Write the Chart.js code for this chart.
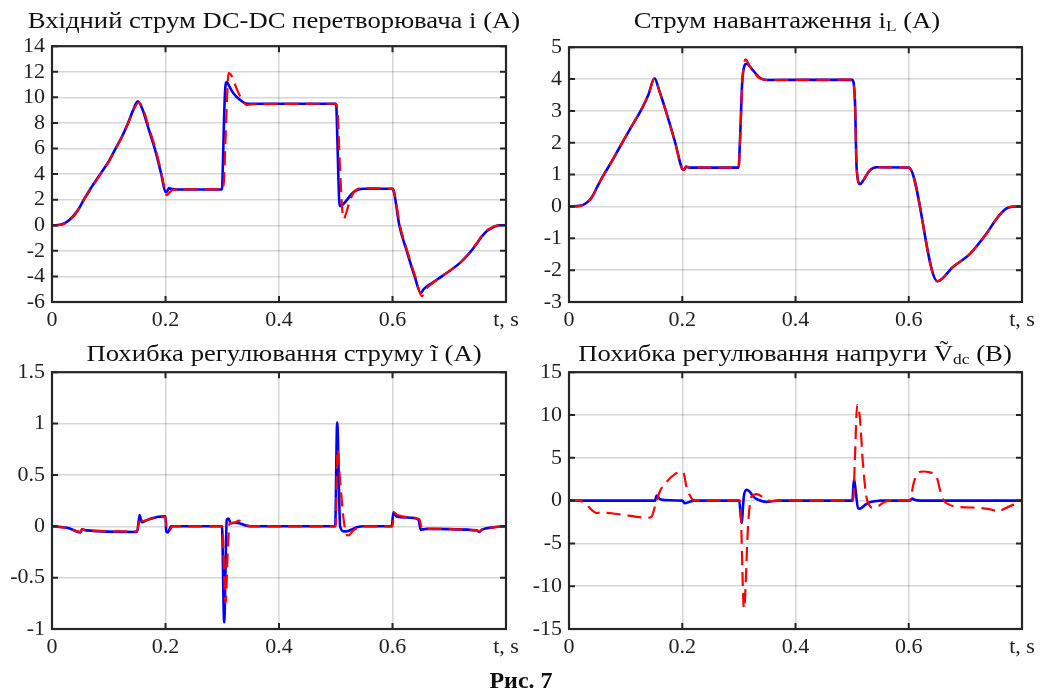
<!DOCTYPE html>
<html>
<head>
<meta charset="utf-8">
<script src="https://cdn.jsdelivr.net/npm/chart.js@4.4.1/dist/chart.umd.min.js"></script>
<style>
  html,body{margin:0;padding:0;background:#fff;}
  body{width:1041px;height:693px;position:relative;overflow:hidden;font-family:"Liberation Serif","Times New Roman",serif;}
  canvas{position:absolute;}
  .ttl{position:absolute;white-space:nowrap;font-size:23px;line-height:26px;color:#111;transform:translateX(-50%) scaleX(1.16);}
  .ttl sub{font-size:15px;vertical-align:-3px;line-height:0;}
  .fig{position:absolute;white-space:nowrap;font-size:24px;font-weight:bold;line-height:28px;color:#111;transform:translateX(-50%);}
</style>
</head>
<body>
<canvas id="c1"></canvas>
<canvas id="c2"></canvas>
<canvas id="c3"></canvas>
<canvas id="c4"></canvas>
<div class="ttl" style="left:274px;top:8px;">Вхідний струм DC-DC перетворювача і (A)</div>
<div class="ttl" style="left:787px;top:8px;">Струм навантаження i<sub>L</sub> (A)</div>
<div class="ttl" style="left:284px;top:341px;">Похибка регулювання струму i&#x0303; (A)</div>
<div class="ttl" style="left:795px;top:341px;">Похибка регулювання напруги V&#x0303;<sub>dc</sub> (B)</div>
<div class="fig" style="left:521px;top:666px;">Рис. 7</div>
<script>
// ---------- data ----------
const timeTicks = [0, 0.2, 0.4, 0.6, 0.8];
const ticksInputCurrent = [-6, -4, -2, 0, 2, 4, 6, 8, 10, 12, 14];
const ticksLoadCurrent = [-3, -2, -1, 0, 1, 2, 3, 4, 5];
const ticksCurrentError = [-1, -0.5, 0, 0.5, 1, 1.5];
const ticksVoltageError = [-15, -10, -5, 0, 5, 10, 15];

// input current i (A): [t, value]
const inputCurrentBlue = [[0,0],[0.01,0.02],[0.02,0.12],[0.03,0.4],[0.04,0.85],[0.05,1.5],[0.056,2.0],[0.07,3.0],[0.085,4.0],[0.1,5.0],[0.112,6.0],[0.124,7.0],[0.134,8.0],[0.143,9.0],[0.151,9.7],[0.16,9.0],[0.167,8.0],[0.174,7.0],[0.181,6.0],[0.1925,4.0],[0.2,2.6],[0.203,2.65],[0.206,2.9],[0.21,2.85],[0.22,2.8],[0.2995,2.8],[0.301,4.5],[0.303,8.0],[0.305,10.5],[0.308,11.2],[0.312,10.9],[0.32,10.3],[0.33,9.85],[0.34,9.55],[0.35,9.5],[0.4995,9.5],[0.501,9.3],[0.503,6.5],[0.506,2.0],[0.508,1.5],[0.512,1.6],[0.52,2.0],[0.53,2.55],[0.54,2.8],[0.55,2.85],[0.6,2.85],[0.603,2.5],[0.612,0.0],[0.625,-2.0],[0.639,-4.0],[0.65,-5.3],[0.655,-5.0],[0.67,-4.5],[0.69,-3.9],[0.72,-2.9],[0.735,-2.2],[0.749,-1.4],[0.757,-0.9],[0.765,-0.5],[0.772,-0.3],[0.78,-0.1],[0.79,0],[0.8,0]];
const inputCurrentRed = [[0,0],[0.01,0.0],[0.02,0.08],[0.03,0.35],[0.04,0.8],[0.05,1.45],[0.056,1.95],[0.07,2.95],[0.085,3.95],[0.1,4.95],[0.112,5.95],[0.124,6.95],[0.134,7.95],[0.143,8.95],[0.153,9.6],[0.162,8.9],[0.169,7.9],[0.176,6.9],[0.183,5.9],[0.194,3.8],[0.2,2.6],[0.202,2.35],[0.206,2.5],[0.212,2.75],[0.22,2.8],[0.2995,2.8],[0.303,3.5],[0.306,7.0],[0.309,10.5],[0.311,11.9],[0.315,11.8],[0.32,11.3],[0.326,10.6],[0.335,9.8],[0.343,9.4],[0.35,9.45],[0.5,9.5],[0.503,9.0],[0.507,5.0],[0.511,1.5],[0.514,0.5],[0.518,0.9],[0.524,1.8],[0.532,2.6],[0.545,2.9],[0.6,2.85],[0.603,2.6],[0.613,0.0],[0.626,-2.0],[0.64,-4.0],[0.652,-5.55],[0.657,-5.1],[0.67,-4.55],[0.69,-3.9],[0.72,-2.9],[0.735,-2.2],[0.749,-1.35],[0.757,-0.85],[0.765,-0.45],[0.772,-0.25],[0.78,-0.08],[0.79,0],[0.8,0]];

// load current iL (A)
const loadCurrentBlue = [[0,0],[0.02,0.02],[0.03,0.1],[0.04,0.28],[0.05,0.62],[0.06,0.95],[0.075,1.4],[0.094,2.0],[0.11,2.5],[0.128,3.05],[0.14,3.5],[0.151,4.02],[0.16,3.6],[0.171,3.0],[0.1876,2.0],[0.2,1.18],[0.203,1.15],[0.207,1.25],[0.212,1.22],[0.2995,1.22],[0.302,2.1],[0.3065,4.06],[0.3135,4.48],[0.325,4.27],[0.337,4.04],[0.349,3.97],[0.5,3.98],[0.505,3.3],[0.508,1.2],[0.514,0.7],[0.519,0.8],[0.531,1.13],[0.543,1.23],[0.6,1.22],[0.6506,-2.35],[0.678,-1.9],[0.708,-1.49],[0.737,-0.86],[0.755,-0.39],[0.772,-0.07],[0.79,0],[0.8,0]];
const loadCurrentRed = [[0,0],[0.02,0.02],[0.03,0.1],[0.04,0.28],[0.05,0.62],[0.06,0.95],[0.075,1.4],[0.094,2.0],[0.11,2.5],[0.128,3.05],[0.14,3.5],[0.151,4.02],[0.16,3.6],[0.171,3.0],[0.1876,2.0],[0.2,1.18],[0.203,1.15],[0.207,1.25],[0.212,1.22],[0.2995,1.22],[0.302,2.0],[0.3065,4.0],[0.312,4.62],[0.318,4.45],[0.325,4.25],[0.337,4.02],[0.349,3.97],[0.5,3.98],[0.505,3.3],[0.508,1.2],[0.514,0.7],[0.519,0.8],[0.531,1.13],[0.543,1.23],[0.6,1.22],[0.6506,-2.35],[0.678,-1.9],[0.708,-1.49],[0.737,-0.86],[0.755,-0.39],[0.772,-0.07],[0.79,0],[0.8,0]];

// current error (A)
const currentErrorBlue = [[0,0],[0.03,-0.02],[0.05,-0.06],[0.053,-0.03],[0.06,-0.04],[0.15,-0.055],[0.1544,0.11],[0.158,0.04],[0.167,0.06],[0.185,0.09],[0.2,0.096],[0.2013,-0.05],[0.204,-0.06],[0.21,0],[0.2995,0],[0.3034,-0.935],[0.308,0.065],[0.311,0.075],[0.315,0.03],[0.32,0.035],[0.33,0.03],[0.343,0.005],[0.35,0],[0.499,0],[0.5025,1.01],[0.5077,0],[0.514,-0.05],[0.522,-0.045],[0.537,-0.01],[0.55,0],[0.5987,0],[0.6016,0.135],[0.607,0.095],[0.625,0.085],[0.6456,0.065],[0.65,-0.035],[0.654,-0.03],[0.66,-0.025],[0.7485,-0.04],[0.7525,-0.055],[0.757,-0.035],[0.778,-0.01],[0.8,0]];
const currentErrorRed = [[0,0],[0.03,-0.02],[0.05,-0.055],[0.054,-0.03],[0.06,-0.04],[0.15,-0.05],[0.155,0.09],[0.16,0.05],[0.167,0.06],[0.185,0.085],[0.2,0.09],[0.202,-0.03],[0.206,-0.05],[0.212,0],[0.3,0],[0.3058,-0.75],[0.31,-0.2],[0.313,0.03],[0.32,0.03],[0.329,0.055],[0.34,0.02],[0.35,0],[0.5,0],[0.503,0.75],[0.508,0.42],[0.514,0.06],[0.519,-0.08],[0.522,-0.09],[0.531,-0.04],[0.55,0],[0.6,0],[0.603,0.13],[0.609,0.11],[0.625,0.09],[0.647,0.07],[0.652,-0.02],[0.66,-0.025],[0.748,-0.04],[0.753,-0.05],[0.758,-0.03],[0.78,-0.01],[0.8,0]];

// voltage error Vdc (B)
const voltageErrorBlue = [[0,0],[0.152,0],[0.1547,0.6],[0.1606,0.17],[0.17,0.05],[0.2,0],[0.2047,-0.3],[0.2106,-0.2],[0.22,0],[0.3006,0],[0.3047,-2.6],[0.3088,0.5],[0.3135,1.25],[0.319,1.05],[0.325,0.5],[0.334,0.1],[0.349,-0.15],[0.36,-0.05],[0.37,0],[0.5006,0],[0.503,2.45],[0.5106,-0.9],[0.5135,-0.95],[0.522,-0.55],[0.531,-0.2],[0.543,-0.05],[0.55,0],[0.602,0],[0.606,0.25],[0.61,0.1],[0.62,0],[0.8,0]];
const voltageErrorRed = [[0,0],[0.01,0],[0.025,-0.15],[0.049,-1.45],[0.055,-1.4],[0.09,-1.6],[0.14,-2.0],[0.146,-1.85],[0.152,-0.65],[0.1606,1.1],[0.1724,2.2],[0.187,3.1],[0.199,3.35],[0.203,3.1],[0.2076,1.55],[0.2135,0.6],[0.219,0.1],[0.23,0],[0.302,0],[0.309,-12.6],[0.3165,-2.6],[0.3224,0.5],[0.331,0.75],[0.34,0.5],[0.346,0.1],[0.36,-0.05],[0.37,0],[0.502,0],[0.505,5.1],[0.509,11.2],[0.5135,9.8],[0.519,4.4],[0.525,0.5],[0.531,-0.6],[0.537,-0.85],[0.546,-0.65],[0.555,-0.25],[0.565,0],[0.602,0],[0.608,1.85],[0.6135,3.0],[0.625,3.4],[0.637,3.3],[0.649,2.8],[0.655,1.3],[0.661,0.1],[0.6724,-0.5],[0.69,-0.75],[0.725,-0.85],[0.749,-1.1],[0.758,-1.35],[0.766,-1.05],[0.784,-0.5],[0.8,-0.1]];

// ---------- rendering ----------
const FONT = '"Liberation Serif","Times New Roman",serif';
const YW = 60, XH = 40, PT = 20, PR = 34;

const boxPlugin = {
  id: 'matlabBox',
  afterDraw(chart) {
    const {ctx, chartArea: a, scales: {x, y}} = chart;
    ctx.save();
    ctx.strokeStyle = '#262626';
    ctx.lineWidth = 2;
    const L = 6;
    ctx.beginPath();
    x.ticks.forEach(t => {
      const px = x.getPixelForValue(t.value);
      ctx.moveTo(px, a.bottom); ctx.lineTo(px, a.bottom - L);
      ctx.moveTo(px, a.top); ctx.lineTo(px, a.top + L);
    });
    y.ticks.forEach(t => {
      const py = y.getPixelForValue(t.value);
      ctx.moveTo(a.left, py); ctx.lineTo(a.left + L, py);
      ctx.moveTo(a.right, py); ctx.lineTo(a.right - L, py);
    });
    ctx.stroke();
    ctx.lineWidth = 2.2;
    ctx.strokeRect(a.left, a.top, a.right - a.left, a.bottom - a.top);
    ctx.restore();
  }
};

function toXY(arr) { return arr.map(p => ({x: p[0], y: p[1]})); }

function makeChart(id, area, blue, red, yTicks) {
  const cv = document.getElementById(id);
  const w = (area.R - area.L) + YW + PR;
  const h = (area.B - area.T) + PT + XH;
  cv.width = w; cv.height = h;
  cv.style.left = (area.L - YW) + 'px';
  cv.style.top = (area.T - PT) + 'px';
  cv.style.width = w + 'px'; cv.style.height = h + 'px';
  const yMin = yTicks[0], yMax = yTicks[yTicks.length - 1];
  new Chart(cv, {
    type: 'line',
    data: {
      datasets: [
        {data: toXY(red), borderColor: '#ff0000', borderWidth: 2.2, borderDash: [14, 7], pointRadius: 0, tension: 0, cubicInterpolationMode: 'monotone', fill: false},
        {data: toXY(blue), borderColor: '#0000ff', borderWidth: 2.6, pointRadius: 0, tension: 0, cubicInterpolationMode: 'monotone', fill: false}
      ]
    },
    options: {
      responsive: false,
      animation: false,
      devicePixelRatio: 1,
      layout: {padding: {top: PT, right: PR, left: 0, bottom: 0}},
      plugins: {legend: {display: false}, title: {display: false}, tooltip: {enabled: false}},
      scales: {
        x: {
          type: 'linear', min: 0, max: 0.8,
          afterBuildTicks: s => { s.ticks = timeTicks.map(v => ({value: v})); },
          afterFit: s => { s.height = XH; },
          ticks: {autoSkip: false, maxRotation: 0, padding: 5, color: '#222', font: {family: FONT, size: 22},
                  callback: v => (v >= 0.8 ? 't, s' : String(v))},
          grid: {color: 'rgba(0,0,0,0.16)', lineWidth: 1.5, drawTicks: false},
          border: {display: false}
        },
        y: {
          type: 'linear', min: yMin, max: yMax,
          afterBuildTicks: s => { s.ticks = yTicks.map(v => ({value: v})); },
          afterFit: s => { s.width = YW; },
          ticks: {autoSkip: false, padding: 7, color: '#222', font: {family: FONT, size: 22},
                  callback: v => String(v)},
          grid: {color: 'rgba(0,0,0,0.16)', lineWidth: 1.5, drawTicks: false},
          border: {display: false}
        }
      }
    },
    plugins: [boxPlugin]
  });
}

makeChart('c1', {L: 52, T: 46, R: 506, B: 302}, inputCurrentBlue, inputCurrentRed, ticksInputCurrent);
makeChart('c2', {L: 569, T: 46.5, R: 1022, B: 302}, loadCurrentBlue, loadCurrentRed, ticksLoadCurrent);
makeChart('c3', {L: 52, T: 372, R: 506, B: 629}, currentErrorBlue, currentErrorRed, ticksCurrentError);
makeChart('c4', {L: 569, T: 372, R: 1022, B: 629}, voltageErrorBlue, voltageErrorRed, ticksVoltageError);
</script>
</body>
</html>
